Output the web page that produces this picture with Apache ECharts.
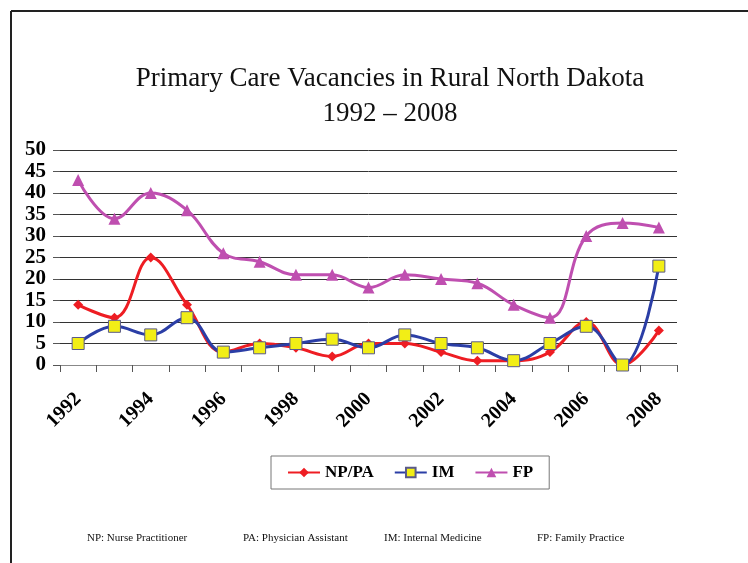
<!DOCTYPE html>
<html>
<head>
<meta charset="utf-8">
<script src="https://cdn.jsdelivr.net/npm/echarts@6/dist/echarts.min.js"></script>
<style>
  html, body { margin: 0; padding: 0; background: #fff; }
  #main { width: 748px; height: 563px; }
</style>
</head>
<body>
<div id="main"></div>
<script>
// 年份
var years = ['1992', '1993', '1994', '1995', '1996', '1997', '1998', '1999', '2000',
  '2001', '2002', '2003', '2004', '2005', '2006', '2007', '2008'];
// NP/PA
var npPa = [14, 11, 25, 14, 3, 5, 4, 2, 5, 5, 3, 1, 1, 3, 10, 0, 8];
// IM
var im = [5, 9, 7, 11, 3, 4, 5, 6, 4, 7, 5, 4, 1, 5, 9, 0, 23];
// FP
var fp = [43, 34, 40, 36, 26, 24, 21, 21, 18, 21, 20, 19, 14, 11, 30, 33, 32];

var serif = '"Liberation Serif", "Times New Roman", serif';

var myChart = echarts.init(document.getElementById('main'));

var option = {
  animation: false,
  title: {
    text: 'Primary Care Vacancies in Rural North Dakota\n1992 – 2008',
    left: 385,
    textAlign: 'center',
    top: 56,
    textStyle: {
      fontFamily: serif,
      fontWeight: 'normal',
      fontSize: 27,
      lineHeight: 35,
      color: '#111'
    }
  },
  legend: {
    orient: 'horizontal',
    left: 271,
    top: 456,
    padding: [8, 16, 8, 16],
    borderColor: '#777',
    borderWidth: 1,
    itemWidth: 32,
    itemHeight: 12,
    itemGap: 20,
    textStyle: {
      fontFamily: serif,
      fontWeight: 'bold',
      fontSize: 17,
      color: '#000'
    },
    data: ['NP/PA', 'IM', 'FP']
  },
  grid: {
    left: 60,
    right: 71,
    top: 150,
    bottom: 198
  },
  xAxis: {
    type: 'category',
    data: years,
    boundaryGap: true,
    axisLine: { lineStyle: { color: '#888', width: 1 } },
    axisTick: { show: true, interval: 0, length: 7, lineStyle: { color: '#555' } },
    axisLabel: {
      interval: 1,
      rotate: 45,
      margin: 31,
      fontFamily: serif,
      fontWeight: 'bold',
      fontSize: 20,
      color: '#000'
    }
  },
  yAxis: {
    type: 'value',
    min: 0,
    max: 50,
    interval: 5,
    axisLine: { show: false },
    axisTick: { show: true, length: 7, lineStyle: { color: '#555' } },
    splitLine: { lineStyle: { color: '#333', width: 1 } },
    axisLabel: {
      margin: 14,
      fontFamily: serif,
      fontWeight: 'bold',
      fontSize: 21,
      color: '#000'
    }
  },
  series: [
    {
      name: 'NP/PA',
      type: 'line',
      data: npPa,
      smooth: 0.4,
      symbol: 'diamond',
      symbolSize: 10,
      lineStyle: { color: '#ee1d23', width: 3 },
      itemStyle: { color: '#ee1d23' },
      z: 3
    },
    {
      name: 'IM',
      type: 'line',
      data: im,
      smooth: 0.4,
      symbol: 'rect',
      symbolSize: 12,
      lineStyle: { color: '#2b3ea6', width: 3 },
      itemStyle: { color: '#f2ee16', borderColor: '#5a5a8a', borderWidth: 1 },
      z: 4
    },
    {
      name: 'FP',
      type: 'line',
      data: fp,
      smooth: 0.4,
      symbol: 'triangle',
      symbolSize: 12,
      lineStyle: { color: '#bf4fb0', width: 3 },
      itemStyle: { color: '#bf4fb0' },
      z: 2
    }
  ],
  graphic: [
    // 外框
    { type: 'line', shape: { x1: 11, y1: 11, x2: 748, y2: 11 }, style: { stroke: '#222', lineWidth: 2 } },
    { type: 'line', shape: { x1: 11, y1: 11, x2: 11, y2: 563 }, style: { stroke: '#222', lineWidth: 2 } },
    // 注释
    { type: 'text', left: 87, top: 533, style: { text: 'NP: Nurse Practitioner', font: '11px ' + serif, fill: '#111' } },
    { type: 'text', left: 243, top: 533, style: { text: 'PA: Physician Assistant', font: '11px ' + serif, fill: '#111' } },
    { type: 'text', left: 384, top: 533, style: { text: 'IM: Internal Medicine', font: '11px ' + serif, fill: '#111' } },
    { type: 'text', left: 537, top: 533, style: { text: 'FP: Family Practice', font: '11px ' + serif, fill: '#111' } }
  ]
};

myChart.setOption(option);
</script>
</body>
</html>
